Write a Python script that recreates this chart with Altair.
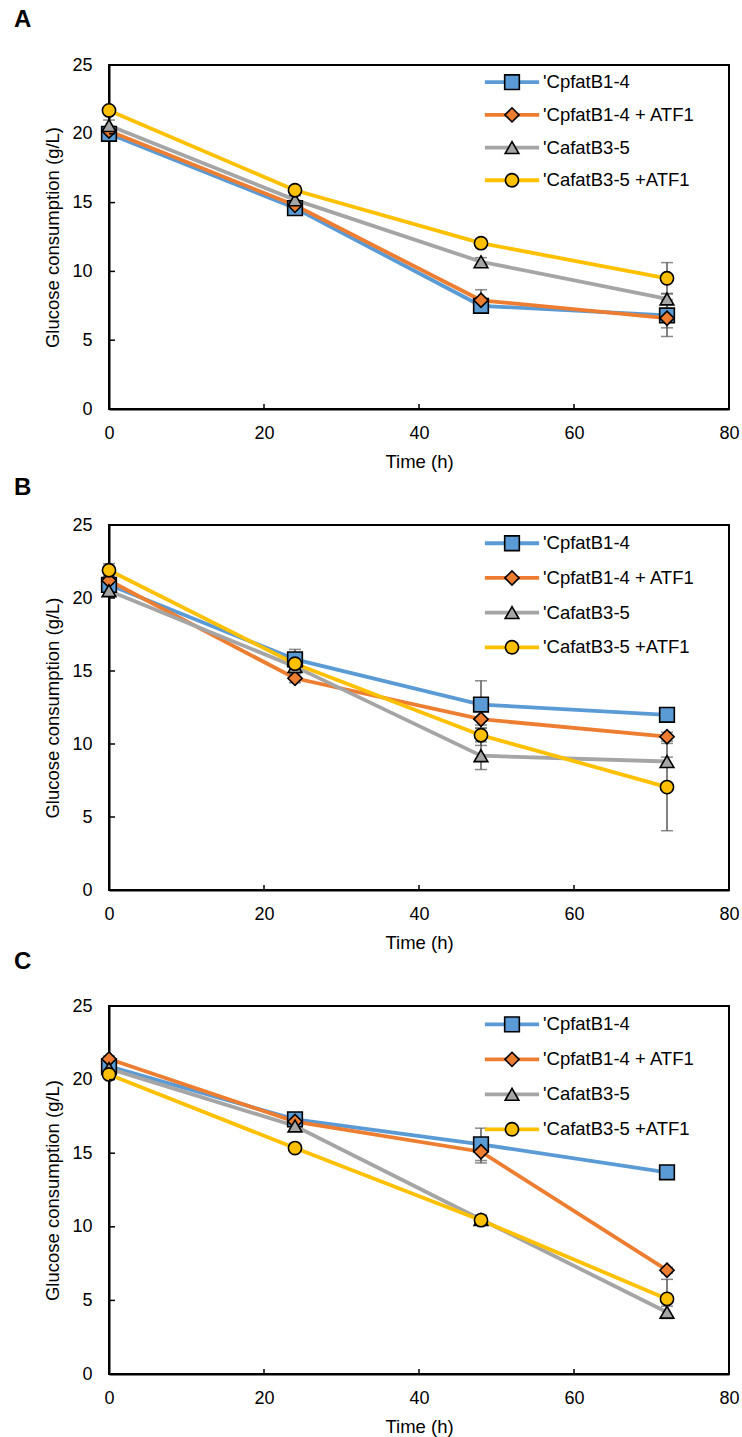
import altair as alt
import pandas as pd

# ---- data -------------------------------------------------------------
time_h = [0, 24, 48, 72]
series_names = ["'CpfatB1-4", "'CpfatB1-4 + ATF1", "'CafatB3-5", "'CafatB3-5 +ATF1"]
series_colors = ["#5B9BD5", "#ED7D31", "#A5A5A5", "#FFC000"]
series_shapes = ["square", "diamond", "triangle-up", "circle"]

x_ticks = [0, 20, 40, 60, 80]
y_ticks = [0, 5, 10, 15, 20, 25]

# Panel A: glucose consumption (g/L) and standard deviations
a_cpfat = [20.0, 14.6, 7.5, 6.8]
a_cpfat_atf = [20.2, 14.8, 7.9, 6.6]
a_cafat = [20.6, 15.2, 10.7, 8.0]
a_cafat_atf = [21.7, 15.9, 12.05, 9.5]
a_cpfat_sd = [0.2, 0.3, 0.3, 0.9]
a_cpfat_atf_sd = [0.2, 0.3, 0.77, 1.33]
a_cafat_sd = [0.4, 0.3, 0.3, 0.4]
a_cafat_atf_sd = [0.2, 0.3, 0.3, 1.14]

# Panel B
b_cpfat = [20.9, 15.8, 12.7, 12.0]
b_cpfat_atf = [21.2, 14.5, 11.7, 10.5]
b_cafat = [20.5, 15.3, 9.2, 8.8]
b_cafat_atf = [21.9, 15.5, 10.6, 7.05]
b_cpfat_sd = [0.3, 0.68, 1.63, 0.2]
b_cpfat_atf_sd = [0.3, 0.3, 0.6, 0.3]
b_cafat_sd = [0.3, 0.3, 0.95, 0.3]
b_cafat_atf_sd = [0.45, 0.3, 0.7, 2.99]

# Panel C
c_cpfat = [20.9, 17.3, 15.6, 13.7]
c_cpfat_atf = [21.4, 17.15, 15.1, 7.05]
c_cafat = [20.75, 16.85, 10.5, 4.2]
c_cafat_atf = [20.35, 15.35, 10.45, 5.1]
c_cpfat_sd = [0.2, 0.3, 1.1, 0.2]
c_cpfat_atf_sd = [0.2, 0.2, 0.76, 0.2]
c_cafat_sd = [0.2, 0.2, 0.3, 0.4]
c_cafat_atf_sd = [0.2, 0.2, 0.3, 1.33]

# ---- styling / layout -------------------------------------------------
FONT = "Liberation Sans"
ERR_COLOR = "#595959"
PLOT_W = 620
PANEL_GAP = 116
LINE_W = 3.8
LEGEND_TOP = 23.75      # legend rows, in axis units
LEGEND_STEP = 2.375
LEGEND_LINE = (48.5, 55.5)
LEGEND_MARK = 52.0
LEGEND_TEXT = 56.0

color_scale = alt.Scale(domain=series_names, range=series_colors)
shape_scale = alt.Scale(domain=series_names, range=series_shapes)
size_scale = alt.Scale(domain=series_names, range=[215, 175, 240, 215])
legend_size_scale = alt.Scale(domain=series_names, range=[125, 100, 135, 125])


def panel(letter, means, sds, height, letter_y):
    rows = []
    for name, m, s in zip(series_names, means, sds):
        for t, v, d in zip(time_h, m, s):
            rows.append({"series": name, "time": t, "value": v,
                         "lo": v - d, "hi": v + d})
    df = pd.DataFrame(rows)
    base = alt.Chart(df)

    xs = alt.Scale(domain=[0, 80], nice=False)
    ys = alt.Scale(domain=[0, 25], nice=False)

    x_main = alt.X("time:Q", scale=xs,
                   axis=alt.Axis(title="Time (h)", values=x_ticks))
    y_main = alt.Y("value:Q", scale=ys,
                   axis=alt.Axis(title="Glucose consumption (g/L)", values=y_ticks))

    color = alt.Color("series:N", scale=color_scale, legend=None)

    lines = base.mark_line(strokeWidth=LINE_W).encode(
        x=x_main, y=y_main, color=color, detail="series:N")

    bars = base.mark_rule(color=ERR_COLOR, strokeWidth=1.5).encode(
        x="time:Q", y="lo:Q", y2="hi:Q")
    caps_lo = base.mark_tick(color=ERR_COLOR, orient="horizontal", size=12,
                             thickness=1.5).encode(x="time:Q", y="lo:Q")
    caps_hi = base.mark_tick(color=ERR_COLOR, orient="horizontal", size=12,
                             thickness=1.5).encode(x="time:Q", y="hi:Q")

    points = base.mark_point(filled=True, opacity=1, stroke="black",
                             strokeWidth=1.6).encode(
        x="time:Q", y="value:Q",
        fill=alt.Fill("series:N", scale=color_scale, legend=None),
        shape=alt.Shape("series:N", scale=shape_scale, legend=None),
        size=alt.Size("series:N", scale=size_scale, legend=None))

    # in-plot legend: line sample, marker and label per series
    leg = pd.DataFrame({
        "series": series_names,
        "ly": [LEGEND_TOP - i * LEGEND_STEP for i in range(len(series_names))],
        "lx1": LEGEND_LINE[0], "lx2": LEGEND_LINE[1],
        "lm": LEGEND_MARK, "lt": LEGEND_TEXT,
    })
    leg_base = alt.Chart(leg)
    leg_lines = leg_base.mark_rule(strokeWidth=LINE_W).encode(
        x="lx1:Q", x2="lx2:Q", y="ly:Q", color=color)
    leg_points = leg_base.mark_point(filled=True, opacity=1, stroke="black",
                                     strokeWidth=1.6).encode(
        x="lm:Q", y="ly:Q",
        fill=alt.Fill("series:N", scale=color_scale, legend=None),
        shape=alt.Shape("series:N", scale=shape_scale, legend=None),
        size=alt.Size("series:N", scale=legend_size_scale, legend=None))
    leg_text = leg_base.mark_text(align="left", baseline="middle", font=FONT,
                                  fontSize=18.5, color="black").encode(
        x="lt:Q", y="ly:Q", text="series:N")

    # inward-pointing tick marks
    yt = alt.Chart(pd.DataFrame({"tv": y_ticks})).mark_rule(
        color="black", strokeWidth=1.5).encode(
        y="tv:Q", x=alt.value(0), x2=alt.value(6))
    xt = alt.Chart(pd.DataFrame({"tv": x_ticks})).mark_rule(
        color="black", strokeWidth=1.5).encode(
        x="tv:Q", y=alt.value(height), y2=alt.value(height - 5))

    tag = alt.Chart(pd.DataFrame({"panel": [letter]})).mark_text(
        align="left", baseline="top", font=FONT, fontSize=24,
        fontWeight="bold", color="black").encode(
        text="panel:N", x=alt.value(-95), y=alt.value(letter_y))

    return alt.layer(lines, bars, caps_lo, caps_hi, points,
                     leg_lines, leg_points, leg_text, yt, xt, tag
                     ).properties(width=PLOT_W, height=height)


pa = panel("A", [a_cpfat, a_cpfat_atf, a_cafat, a_cafat_atf],
           [a_cpfat_sd, a_cpfat_atf_sd, a_cafat_sd, a_cafat_atf_sd], 344, -56.7)
pb = panel("B", [b_cpfat, b_cpfat_atf, b_cafat, b_cafat_atf],
           [b_cpfat_sd, b_cpfat_atf_sd, b_cafat_sd, b_cafat_atf_sd], 365, -49.4)
pc = panel("C", [c_cpfat, c_cpfat_atf, c_cafat, c_cafat_atf],
           [c_cpfat_sd, c_cpfat_atf_sd, c_cafat_sd, c_cafat_atf_sd], 368, -55.7)

chart = alt.vconcat(pa, pb, pc, spacing=PANEL_GAP, bounds="flush").properties(
    padding={"left": 13, "top": 7, "right": 0, "bottom": 0},
    autosize=alt.AutoSizeParams(type="pad"),
    background="white",
).configure_view(
    stroke="black", strokeWidth=2
).configure_axis(
    domainColor="black", domainWidth=2, grid=False, ticks=False, tickSize=0,
    labelFlush=False, labelOverlap=False,
    labelFont=FONT, labelFontSize=18, labelColor="black",
    titleFont=FONT, titleFontSize=18.5, titleFontWeight="normal",
    titleColor="black",
).configure_axisY(
    labelPadding=17, titlePadding=9
).configure_axisX(
    labelPadding=15, titlePadding=10
)

chart.save("out.html", embed_options={"renderer": "svg", "actions": False})
